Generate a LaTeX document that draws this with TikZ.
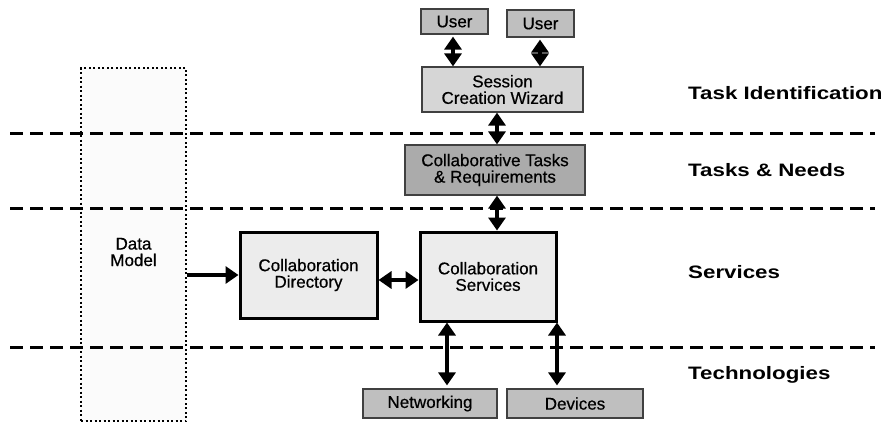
\documentclass[tikz,border=0pt]{standalone}
\usepackage{fontspec}
\usetikzlibrary{arrows.meta}
\newfontfamily\boxfont[FakeBold=0.6]{Liberation Sans}
\newfontfamily\labfont[FakeStretch=1.24]{Liberation Sans}
\definecolor{ugray}{gray}{0.75}
\definecolor{sgray}{gray}{0.84}
\definecolor{tgray}{gray}{0.67}
\definecolor{lgray}{gray}{0.925}
\definecolor{dmgray}{gray}{0.985}
\tikzset{
  thinbox/.style={draw=black!75, line width=1.2pt, inner sep=0pt, align=center,
    font=\boxfont\fontsize{17}{16.5}\selectfont},
  thickbox/.style={draw=black, line width=3pt, inner sep=0pt, align=center,
    fill=lgray, font=\boxfont\fontsize{17}{16.5}\selectfont},
  layerlab/.style={anchor=west, inner sep=0pt, font=\labfont\bfseries\fontsize{18}{20}\selectfont},
  layerline/.style={line width=3pt, dash pattern=on 13pt off 7pt},
  darr/.style={line width=3.5pt, {Triangle[width=17pt,length=13pt]}-{Triangle[width=17pt,length=13pt]}},
  sarr/.style={line width=3.5pt, -{Triangle[width=17pt,length=13pt]}},
}
\begin{document}
\begin{tikzpicture}[x=1pt,y=-1pt]
\useasboundingbox (0,0) rectangle (885,423);
% data model box
\node[draw=black, fill=dmgray, line width=2pt, dash pattern=on 2pt off 2.5pt,
  minimum width=105pt, minimum height=353pt, inner sep=0pt] (dm) at (133.5,244.5) {};
% layer lines
\draw[layerline] (10,133) -- (875,133);
\draw[layerline] (10,208) -- (875,208);
\draw[layerline] (10,347) -- (875,347);
\node[font=\boxfont\fontsize{17}{16.5}\selectfont, align=center, inner sep=0pt] (dmt) at (133.5,252) {Data\\Model};
% boxes
\node[thinbox, fill=ugray, minimum width=67pt, minimum height=25pt] (u1) at (454.5,21.5) {User};
\node[thinbox, fill=ugray, minimum width=67pt, minimum height=27pt] (u2) at (540.5,23.5) {User};
\node[thinbox, fill=sgray, minimum width=161pt, minimum height=45pt] (sess) at (502.5,89.5) {Session\\Creation Wizard};
\node[thinbox, fill=tgray, minimum width=180pt, minimum height=50pt] (ct) at (495,170) {Collaborative Tasks\\\& Requirements};
\node[thickbox, minimum width=136pt, minimum height=89pt] (cs) at (488,276.5) {Collaboration\\Services};
\node[thickbox, minimum width=137pt, minimum height=86pt] (cd) at (308.5,275) {Collaboration\\Directory};
\node[thinbox, fill=ugray, minimum width=134pt, minimum height=29pt] (net) at (430,403.5) {Networking};
\node[thinbox, fill=ugray, minimum width=136pt, minimum height=29pt] (dev) at (575,403.5) {Devices};
% labels
\node[layerlab] (l1) at (688,93) {Task Identification};
\node[layerlab] (l2) at (688,170) {Tasks \& Needs};
\node[layerlab] (l3) at (688,272) {Services};
\node[layerlab] (l4) at (688,375) {Technologies};
% connectors
\draw[darr, shorten <=2pt] ([xshift=-1.5pt]u1.south) -- ([xshift=-1.5pt]u1.south |- sess.north);
\draw[darr, shorten <=2pt] ([xshift=-0.5pt]u2.south) -- ([xshift=-0.5pt]u2.south |- sess.north);
\draw[darr] ([xshift=-5.5pt]sess.south) -- ([xshift=-5.5pt]sess.south |- ct.north);
\draw[darr] ([xshift=2pt]ct.south) -- ([xshift=2pt]ct.south |- cs.north);
\draw[sarr] (cd.west -| dm.east) -- (cd.west);
\draw[darr] ([yshift=-5pt]cd.east) -- ([yshift=-5pt]cd.east -| cs.west);
\draw[darr, shorten >=3pt] ([xshift=17pt]net.north |- cs.south) -- ([xshift=17pt]net.north);
\draw[darr, shorten >=3pt] ([xshift=-18pt]dev.north |- cs.south) -- ([xshift=-18pt]dev.north);
\end{tikzpicture}
\end{document}
